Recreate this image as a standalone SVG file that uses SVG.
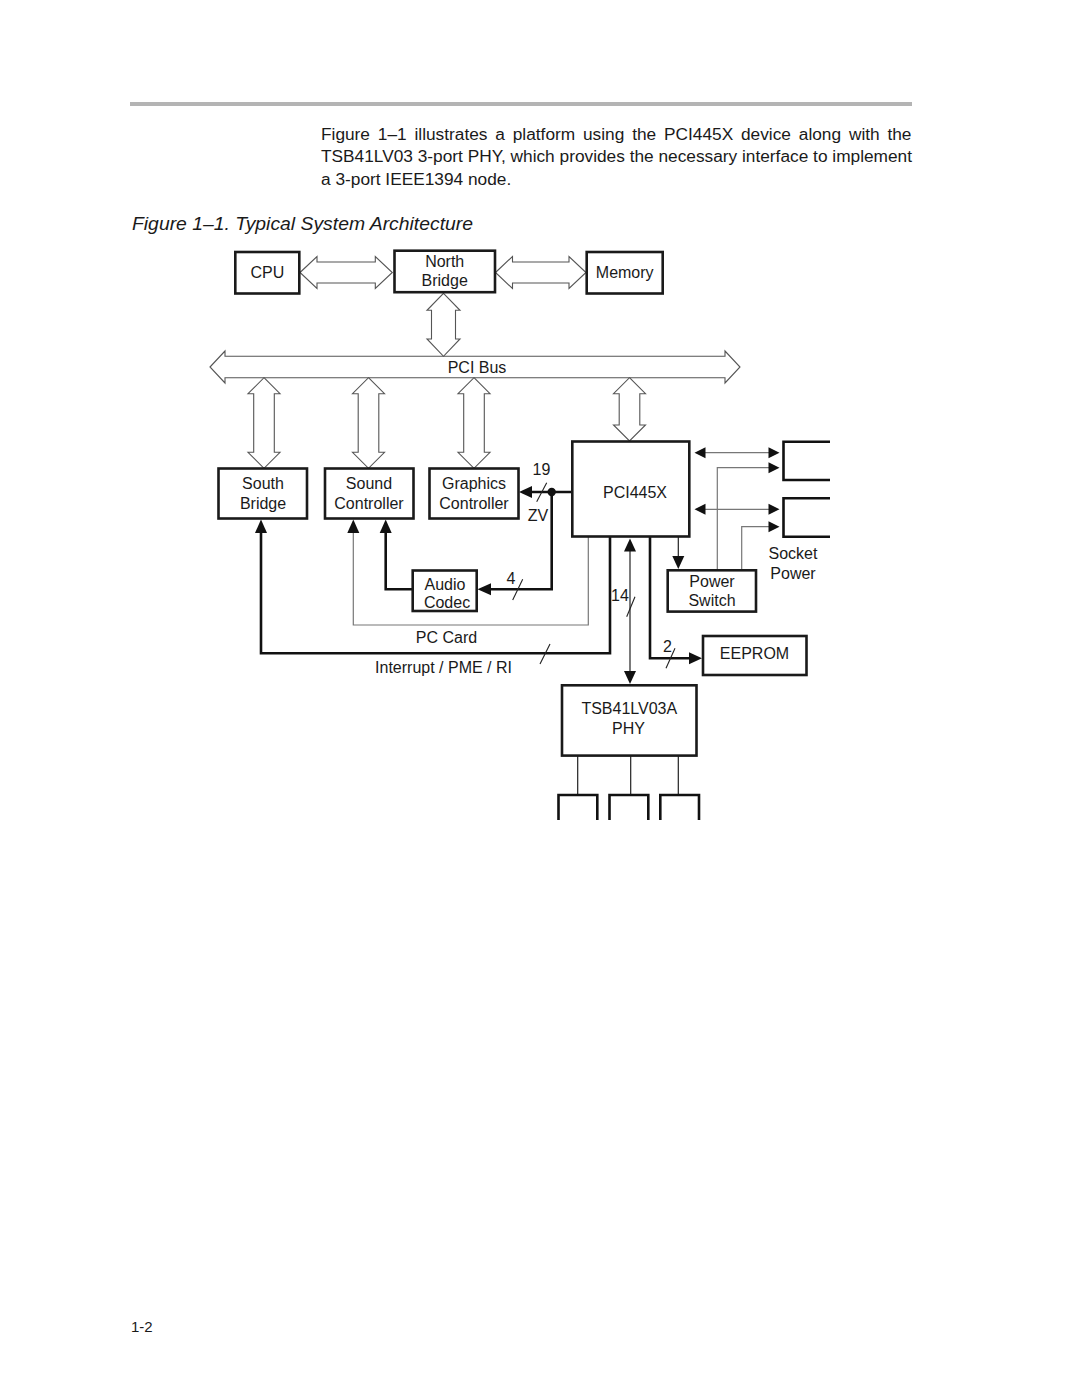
<svg xmlns="http://www.w3.org/2000/svg" width="1080" height="1397" viewBox="0 0 1080 1397">
<style>
text{font-family:"Liberation Sans",Arial,Helvetica,sans-serif;fill:#1a1a1a}
.lbl{font-size:16px;text-anchor:middle;dominant-baseline:central}
.box{fill:#fff;stroke:#1a1a1a;stroke-width:2.6}
.hol{fill:#fff;stroke:#555;stroke-width:1.1;stroke-linejoin:miter}
.thk{fill:none;stroke:#111;stroke-width:2.6}
.thn{fill:none;stroke:#777;stroke-width:1.2}
.thb{fill:none;stroke:#222;stroke-width:1.2}
.ah{fill:#111}
.sl{stroke:#222;stroke-width:1.1}
</style>
<rect width="1080" height="1397" fill="#fff"/>
<line x1="130" y1="104" x2="912" y2="104" stroke="#b4b4b4" stroke-width="4"/>
<g id="para" font-size="17.3">
<text x="321" y="139.5" word-spacing="3.03">Figure 1–1 illustrates a platform using the PCI445X device along with the</text>
<text x="321" y="162" textLength="591" lengthAdjust="spacingAndGlyphs">TSB41LV03 3-port PHY, which provides the necessary interface to implement</text>
<text x="321" y="184.5">a 3-port IEEE1394 node.</text>
</g>
<text id="caption" x="132" y="230" font-size="19" font-style="italic" textLength="341" lengthAdjust="spacingAndGlyphs">Figure 1–1. Typical System Architecture</text>

<g id="connectors">
<polygon class="hol" points="300,272.5 317,256.5 317,262 375.3,262 375.3,256.5 392.3,272.5 375.3,288.5 375.3,283 317,283 317,288.5"/>
<polygon class="hol" points="495.5,272.5 512.5,256.5 512.5,262 569,262 569,256.5 586,272.5 569,288.5 569,283 512.5,283 512.5,288.5"/>
<polygon class="hol" points="210,367 225,351 225,356.3 725,356.3 725,351 740,367 725,383 725,377.7 225,377.7 225,383"/>
<polygon class="hol" points="443.5,293.3 460,310.3 455.5,310.3 455.5,339 460,339 443.5,356.3 427,339 431.5,339 431.5,310.3 427,310.3"/>
<polygon class="hol" points="264,377.7 280,393.7 274.3,393.7 274.3,452.3 280,452.3 264,468.3 248,452.3 253.7,452.3 253.7,393.7 248,393.7"/>
<polygon class="hol" points="368.5,377.7 384.5,393.7 378.8,393.7 378.8,452.3 384.5,452.3 368.5,468.3 352.5,452.3 358.2,452.3 358.2,393.7 352.5,393.7"/>
<polygon class="hol" points="474,377.7 490,393.7 484.3,393.7 484.3,452.3 490,452.3 474,468.3 458,452.3 463.7,452.3 463.7,393.7 458,393.7"/>
<polygon class="hol" points="629.5,377.7 645.5,393.7 639.8,393.7 639.8,425 645.5,425 629.5,441 613.5,425 619.2,425 619.2,393.7 613.5,393.7"/>

<path class="thk" d="M572,492 H530"/>
<path class="thk" d="M551.7,492 V589.3 H490"/>
<path class="thk" d="M412.7,589.3 H385.7 V530"/>
<path class="thk" d="M610,537 V653.3 H261 V530"/>
<path class="thk" d="M650,537 V658.3 H692"/>
<circle cx="551.7" cy="492" r="4.2" fill="#111"/>

<path class="thn" d="M588.3,537 V625 H353.3 V530"/>
<path class="thb" d="M630,545 V677"/>
<path class="thb" d="M678.3,537 V560"/>
<path class="thn" d="M700,452.7 H773"/>
<path class="thn" d="M700,509.3 H773"/>
<path class="thn" d="M717.3,570 V467.7 H773"/>
<path class="thn" d="M741.7,570 V526.7 H773"/>
<path class="thb" d="M577.7,755.7 V795 M630.7,755.7 V795 M678.3,755.7 V795"/>

<polygon class="ah" points="519,492 532,486 532,498"/>
<polygon class="ah" points="477.5,589.3 491,583.3 491,595.3"/>
<polygon class="ah" points="385.7,519.5 379.7,533 391.7,533"/>
<polygon class="ah" points="353.3,519.5 347.3,533 359.3,533"/>
<polygon class="ah" points="261,519.5 255,533 267,533"/>
<polygon class="ah" points="702,658.3 689,652.3 689,664.3"/>
<polygon class="ah" points="630,538.5 624,551.5 636,551.5"/>
<polygon class="ah" points="630,684 624,671 636,671"/>
<polygon class="ah" points="678.3,569 672.3,556 684.3,556"/>
<polygon class="ah" points="694.5,452.7 705.5,447.2 705.5,458.2"/>
<polygon class="ah" points="779.5,452.7 768.5,447.2 768.5,458.2"/>
<polygon class="ah" points="779.5,467.7 768.5,462.2 768.5,473.2"/>
<polygon class="ah" points="694.5,509.3 705.5,503.8 705.5,514.8"/>
<polygon class="ah" points="779.5,509.3 768.5,503.8 768.5,514.8"/>
<polygon class="ah" points="779.5,526.7 768.5,521.2 768.5,532.2"/>

<line class="sl" x1="536.7" y1="501.7" x2="546.7" y2="482.7"/>
<line class="sl" x1="512.7" y1="600" x2="522.7" y2="579.3"/>
<line class="sl" x1="626.7" y1="616.7" x2="635" y2="596.7"/>
<line class="sl" x1="540" y1="664" x2="550" y2="644"/>
<line class="sl" x1="666" y1="668.3" x2="675" y2="648.3"/>

<text class="lbl" x="477" y="367">PCI Bus</text>
<text class="lbl" x="541.5" y="469.5">19</text>
<text class="lbl" x="538" y="515.5">ZV</text>
<text class="lbl" x="511" y="578">4</text>
<text class="lbl" x="620" y="595">14</text>
<text class="lbl" x="667.5" y="646">2</text>
<text class="lbl" x="446.5" y="637">PC Card</text>
<text class="lbl" x="443.5" y="667">Interrupt / PME / RI</text>
<text class="lbl" x="793" y="553">Socket</text>
<text class="lbl" x="793" y="573">Power</text>
</g>

<g id="cpu"><rect class="box" x="235.3" y="252" width="64" height="41.5"/><text class="lbl" x="267.3" y="272">CPU</text></g>
<g id="north-bridge"><rect class="box" x="394.5" y="250.7" width="100.5" height="41.5"/><text class="lbl" x="444.7" y="261">North</text><text class="lbl" x="444.7" y="280.5">Bridge</text></g>
<g id="memory"><rect class="box" x="586.7" y="252" width="76" height="41.5"/><text class="lbl" x="624.7" y="272">Memory</text></g>
<g id="south-bridge"><rect class="box" x="218.5" y="468.5" width="88.5" height="50"/><text class="lbl" x="263" y="483.5">South</text><text class="lbl" x="263" y="503">Bridge</text></g>
<g id="sound-controller"><rect class="box" x="325" y="468.5" width="88.5" height="50"/><text class="lbl" x="369" y="483.5">Sound</text><text class="lbl" x="369" y="503">Controller</text></g>
<g id="graphics-controller"><rect class="box" x="429.5" y="468.5" width="89" height="50"/><text class="lbl" x="474" y="483.5">Graphics</text><text class="lbl" x="474" y="503">Controller</text></g>
<g id="pci445x"><rect class="box" x="572.3" y="441.5" width="117" height="95"/><text class="lbl" x="635" y="492">PCI445X</text></g>
<g id="audio-codec"><rect class="box" x="412.7" y="570.5" width="64" height="40.5"/><text class="lbl" x="445" y="584">Audio</text><text class="lbl" x="447" y="602">Codec</text></g>
<g id="power-switch"><rect class="box" x="667.7" y="570.3" width="88.3" height="41.3"/><text class="lbl" x="712" y="581">Power</text><text class="lbl" x="712" y="600">Switch</text></g>
<g id="eeprom"><rect class="box" x="703" y="636" width="103.5" height="39"/><text class="lbl" x="754.5" y="653">EEPROM</text></g>
<g id="phy"><rect class="box" x="562" y="685.3" width="134.5" height="70.3"/><text class="lbl" x="629.3" y="708.5">TSB41LV03A</text><text class="lbl" x="628.5" y="728">PHY</text></g>
<g id="socket-1"><path class="thk" d="M830,441.7 H783.5 V480 H830"/></g>
<g id="socket-2"><path class="thk" d="M830,498.3 H783.5 V536.7 H830"/></g>
<g id="port-1"><path class="thk" d="M558.5,820 V795 H597.3 V820"/></g>
<g id="port-2"><path class="thk" d="M609.5,820 V795 H648.3 V820"/></g>
<g id="port-3"><path class="thk" d="M660.3,820 V795 H699 V820"/></g>
<text id="page" x="131" y="1332" font-size="15">1-2</text>
</svg>
